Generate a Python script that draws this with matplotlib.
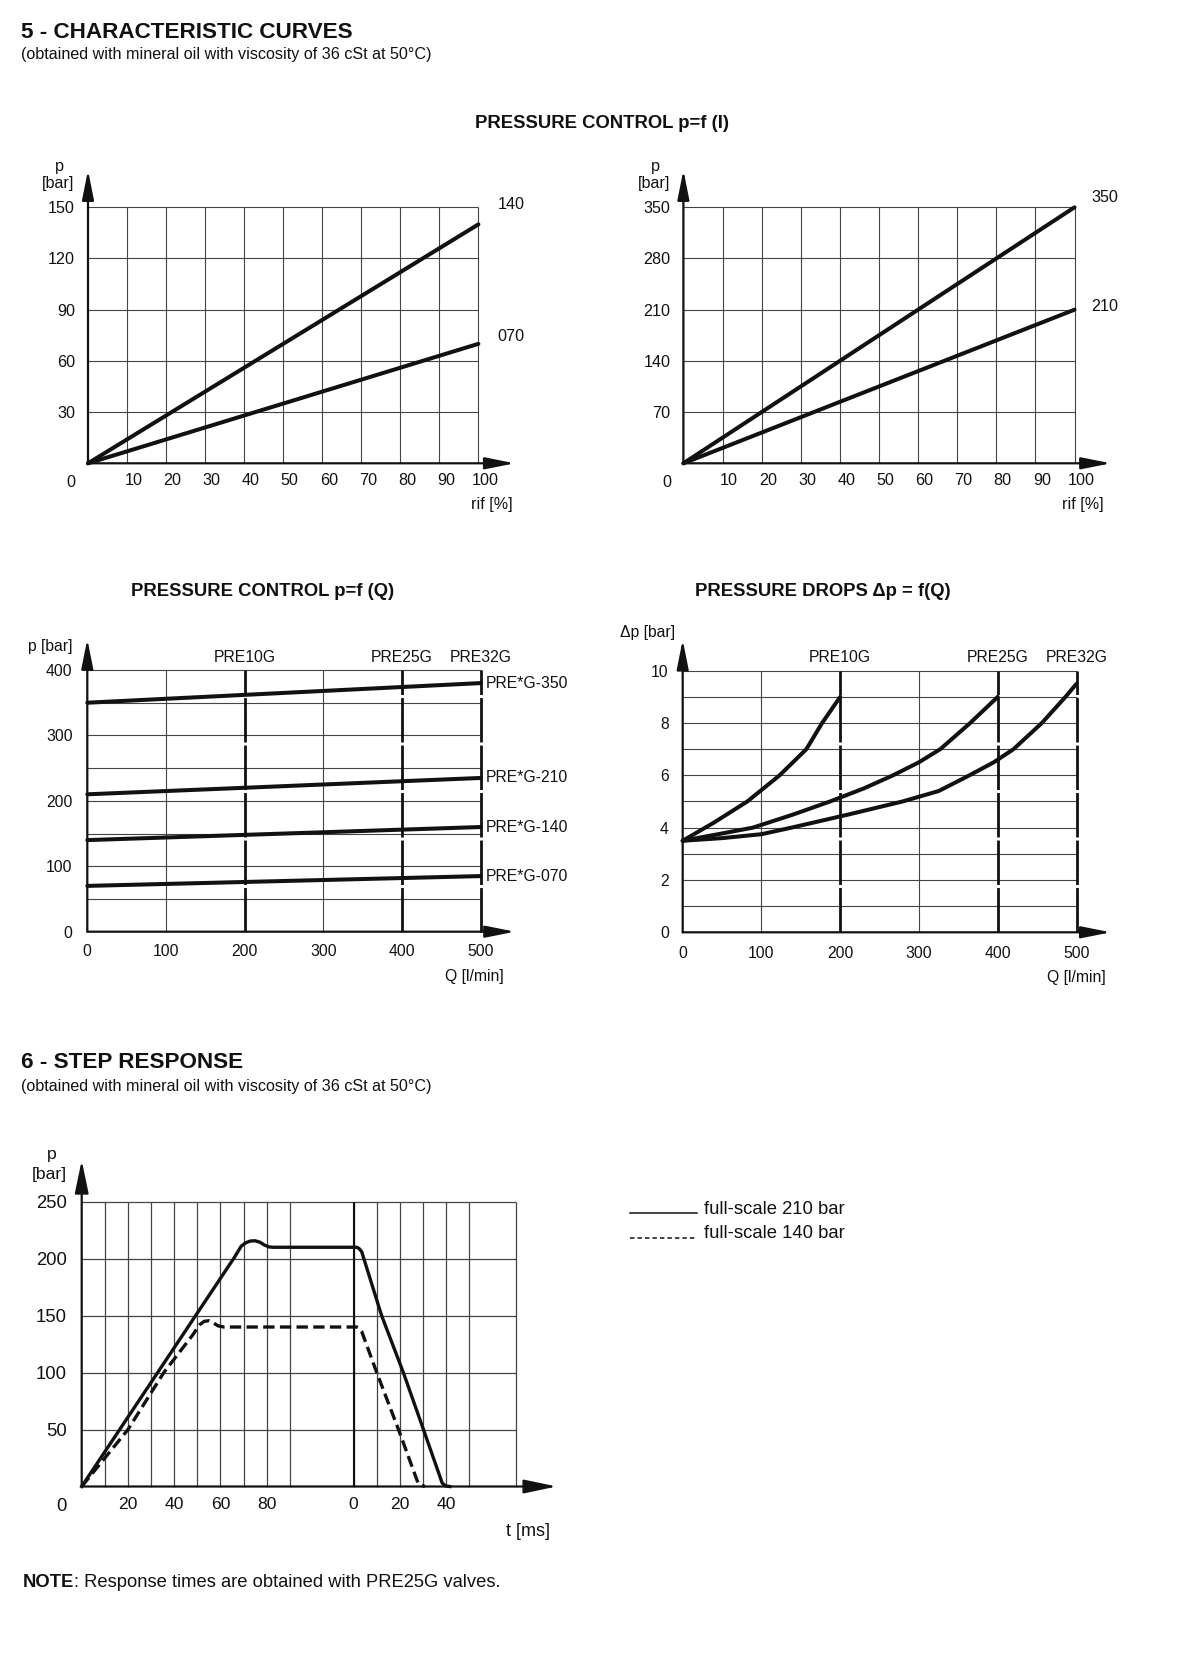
import numpy as np
import matplotlib
matplotlib.use('Agg')
import matplotlib.pyplot as plt
from matplotlib.lines import Line2D
from matplotlib.transforms import ScaledTranslation

W, H = 1200, 1669
plt.rcParams['font.family'] = ['Liberation Sans', 'DejaVu Sans']

# ---- values ----
# pressure control p = f(I)
rif = [0, 100]
p_rif_140 = [0, 140]
p_rif_070 = [0, 70]
p_rif_350 = [0, 350]
p_rif_210 = [0, 210]
rif_ticks = [10, 20, 30, 40, 50, 60, 70, 80, 90, 100]
p150_ticks = [30, 60, 90, 120, 150]
p350_ticks = [70, 140, 210, 280, 350]

# pressure control p = f(Q)
q_ends = [0, 500]
pq_350 = [350, 380]
pq_210 = [210, 235]
pq_140 = [140, 160]
pq_070 = [70, 85]
pq_names = ['PRE*G-350', 'PRE*G-210', 'PRE*G-140', 'PRE*G-070']
q_ticks = [0, 100, 200, 300, 400, 500]
pq_ticks = [0, 100, 200, 300, 400]
pq_grid = [50, 100, 150, 200, 250, 300, 350, 400]
valve_names = ['PRE10G', 'PRE25G', 'PRE32G']
valve_qmax = [200, 400, 500]

# pressure drops dp = f(Q)
q_10g = [0, 40, 82, 123, 157, 177, 200]
dp_10g = [3.5, 4.2, 5.0, 6.0, 7.0, 8.0, 9.0]
q_25g = [0, 45, 89, 140, 187, 230, 267, 300, 327, 365, 400]
dp_25g = [3.5, 3.75, 4.0, 4.5, 5.0, 5.5, 6.0, 6.5, 7.0, 8.0, 9.0]
q_32g = [0, 50, 100, 138, 210, 279, 325, 364, 395, 420, 456, 486, 500]
dp_32g = [3.5, 3.6, 3.75, 4.0, 4.5, 5.0, 5.4, 6.0, 6.5, 7.0, 8.0, 9.0, 9.5]
dp_ticks = [0, 2, 4, 6, 8, 10]
dp_grid = [1, 2, 3, 4, 5, 6, 7, 8, 9, 10]

# step response (rise measured from the step, fall measured from the release)
t_rise_210 = [0, 66, 69, 71, 73, 75, 77, 79, 81, 83, 90]
p_rise_210 = [0, 201, 211, 214, 215.5, 215.7, 214.5, 212, 210.3, 210, 210]
t_fall_210 = [0, 1.3, 2.3, 3.5, 12.1, 21.5, 30.2, 38.3, 39.8, 41.6]
p_fall_210 = [210, 210, 209, 206, 150, 100, 50, 3, 0.5, 0]
t_rise_140 = [0, 10, 20, 35.5, 48, 51, 53, 55, 57, 59, 61.5, 90]
p_rise_140 = [0, 25, 50, 100, 133, 142, 145, 145.5, 143.5, 141, 140, 140]
t_fall_140 = [0, 1.3, 2.3, 3.5, 10.0, 19.4, 27.5, 28.5, 30.9]
p_fall_140 = [140, 140, 139, 136, 100, 50, 5, 1.5, 0]
t_ticks_rise = [20, 40, 60, 80]
t_ticks_fall = [0, 20, 40]
t_grid_rise = [10, 20, 30, 40, 50, 60, 70, 80, 90]
t_grid_fall = [0, 10, 20, 30, 40, 50, 70]
step_p_ticks = [50, 100, 150, 200, 250]

T_BREAK = 117.6   # where the release time axis starts on the drawing
INK = '#111111'
GRID = '#444444'

fig = plt.figure(figsize=(W / 100, H / 100), dpi=100)


def make_ax(x0, y0, x1, y1):
    ax = fig.add_axes([x0 / W, 1 - y1 / H, (x1 - x0) / W, (y1 - y0) / H])
    for s in ax.spines.values():
        s.set_visible(False)
    ax.patch.set_alpha(0)
    return ax


def ftext(x, y, s, **kw):
    kw.setdefault('va', 'center')
    kw.setdefault('color', INK)
    return fig.text(x / W, 1 - y / H, s, **kw)


def grid(ax, xs, ys, lw=0.8):
    x0, x1 = ax.get_xlim()
    y0, y1 = ax.get_ylim()
    ax.vlines(xs, y0, y1, colors=GRID, lw=lw, clip_on=False, zorder=1)
    ax.hlines(ys, x0, x1, colors=GRID, lw=lw, clip_on=False, zorder=1)


def arrows(ax, xext, yext, hl=1.8, hw=0.36, lw=1.6):
    style = f'-|>,head_length={hl},head_width={hw}'
    props = dict(arrowstyle=style, lw=lw, color=INK, shrinkA=0, shrinkB=0,
                 mutation_scale=10)
    ax.annotate('', xy=(1 + xext, 0), xytext=(0, 0), xycoords='axes fraction',
                arrowprops=props, annotation_clip=False)
    ax.annotate('', xy=(0, 1 + yext), xytext=(0, 0), xycoords='axes fraction',
                arrowprops=props, annotation_clip=False)


def ticks(ax, xt, xl, yt, yl, size, xpad, ypad, xshift=0, ysize=None):
    ax.set_xticks(xt)
    ax.set_xticklabels(xl)
    ax.set_yticks(yt)
    ax.set_yticklabels(yl)
    ax.tick_params(axis='x', length=0, labelsize=size, pad=xpad, colors=INK)
    ax.tick_params(axis='y', length=0, labelsize=ysize or size, pad=ypad, colors=INK)
    if xshift:
        for lbl in ax.get_xticklabels():
            lbl.set_transform(lbl.get_transform() +
                              ScaledTranslation(xshift / 100, 0, fig.dpi_scale_trans))


def valve_lines(ax, ytop):
    # thick broken verticals at the max flow of each valve size
    ax.vlines(valve_qmax, 0, ytop, colors=INK, lw=2.0, linestyles=[(0, (16, 1.1))],
              clip_on=False, zorder=2)


# ---- headings ----
ftext(21, 32, '5 - CHARACTERISTIC CURVES', fontsize=16.2, weight='bold', ha='left')
ftext(21, 55, '(obtained with mineral oil with viscosity of 36 cSt at 50°C)',
      fontsize=11.6, ha='left')
ftext(602, 123, 'PRESSURE CONTROL p=f (I)', fontsize=13.3, weight='bold', ha='center')

# ---- p = f(I), two full scales ----
tops = [
    ((88, 207.3, 478.4, 463.3), 150, p150_ticks, [p_rif_140, p_rif_070],
     ['140', '070'], [(19, 20), (19, 7)], (59.3, 492)),
    ((683.4, 207.3, 1074.5, 463.3), 350, p350_ticks, [p_rif_350, p_rif_210],
     ['350', '210'], [(17, 10), (17, 3)], (655, 1083)),
]
for box, ymax, yt, curves, labels, offs, (px, rx) in tops:
    ax = make_ax(*box)
    ax.set_xlim(0, 100)
    ax.set_ylim(0, ymax)
    grid(ax, rif_ticks, yt)
    for yv, lab, off in zip(curves, labels, offs):
        ax.plot(rif, yv, color=INK, lw=2.9, solid_capstyle='round', zorder=3, clip_on=False)
        ax.annotate(lab, xy=(rif[-1], yv[-1]), xytext=off, textcoords='offset pixels',
                    fontsize=11.6, va='center', ha='left', color=INK)
    ticks(ax, rif_ticks, [str(v) for v in rif_ticks], yt, [str(v) for v in yt],
          11.6, 7.2, 9.3, xshift=6.5)
    ax.annotate('0', xy=(0, 0), xytext=(-17, -19), textcoords='offset pixels',
                fontsize=11.6, ha='center', va='center', color=INK)
    arrows(ax, 0.093, 0.145)
    ftext(px, 166, 'p', fontsize=11.6, ha='center')
    ftext(px - 1, 183, '[bar]', fontsize=11.6, ha='center')
    ftext(rx, 505, 'rif [%]', fontsize=11.6, ha='center')

# ---- p = f(Q) ----
ftext(263, 591, 'PRESSURE CONTROL p=f (Q)', fontsize=13.3, weight='bold', ha='center')
ax = make_ax(87.3, 670, 480.7, 931.7)
ax.set_xlim(0, 500)
ax.set_ylim(0, 400)
grid(ax, [100, 300], pq_grid)
valve_lines(ax, 400)
for yv, name in zip([pq_350, pq_210, pq_140, pq_070], pq_names):
    ax.plot(q_ends, yv, color=INK, lw=2.9, solid_capstyle='round', zorder=3, clip_on=False)
    ax.annotate(name, xy=(q_ends[-1], yv[-1]), xytext=(5, 0), textcoords='offset pixels',
                fontsize=11.3, va='center', ha='left', color=INK)
for q, name in zip(valve_qmax, valve_names):
    ax.annotate(name, xy=(q, 400), xytext=(0, 13), textcoords='offset pixels',
                fontsize=11.3, va='center', ha='center', color=INK)
ticks(ax, q_ticks, [str(v) for v in q_ticks], pq_ticks, [str(v) for v in pq_ticks],
      11.3, 9, 10.6)
arrows(ax, 0.087, 0.118)
ftext(49.8, 646, 'p [bar]', fontsize=11.3, ha='center')
ftext(474.6, 976, 'Q [l/min]', fontsize=11.3, ha='center')

# ---- pressure drops ----
ftext(823, 591, 'PRESSURE DROPS Δp = f(Q)', fontsize=13.3, weight='bold', ha='center')
ax = make_ax(682.7, 670.7, 1076.5, 932.3)
ax.set_xlim(0, 500)
ax.set_ylim(0, 10)
grid(ax, [100, 300], dp_grid)
valve_lines(ax, 10)
for qv, dv in [(q_10g, dp_10g), (q_25g, dp_25g), (q_32g, dp_32g)]:
    ax.plot(qv, dv, color=INK, lw=2.9, solid_capstyle='round', solid_joinstyle='round',
            zorder=3, clip_on=False)
for q, name in zip(valve_qmax, valve_names):
    ax.annotate(name, xy=(q, 10), xytext=(0, 13.5), textcoords='offset pixels',
                fontsize=11.3, va='center', ha='center', color=INK)
ticks(ax, q_ticks, [str(v) for v in q_ticks], dp_ticks, [str(v) for v in dp_ticks],
      11.3, 10, 10)
arrows(ax, 0.087, 0.118)
ftext(647.8, 632, 'Δp [bar]', fontsize=11.3, ha='center')
ftext(1076, 977, 'Q [l/min]', fontsize=11.3, ha='center')

# ---- step response ----
ftext(21, 1063, '6 - STEP RESPONSE', fontsize=16.2, weight='bold', ha='left')
ftext(21, 1086, '(obtained with mineral oil with viscosity of 36 cSt at 50°C)',
      fontsize=11.6, ha='left')
ax = make_ax(81.7, 1201.7, 515.5, 1486.5)
ax.set_xlim(0, T_BREAK + 70)
ax.set_ylim(0, 250)
fall_grid = [T_BREAK + v for v in t_grid_fall]
grid(ax, t_grid_rise + fall_grid, step_p_ticks, lw=0.9)
ax.vlines([T_BREAK], 0, 250, colors=INK, lw=1.5, zorder=1)
t210 = np.concatenate([t_rise_210, T_BREAK + np.array(t_fall_210)])
p210 = np.concatenate([p_rise_210, p_fall_210])
t140 = np.concatenate([t_rise_140, T_BREAK + np.array(t_fall_140)])
p140 = np.concatenate([p_rise_140, p_fall_140])
ax.plot(t210, p210, color=INK, lw=2.4, solid_joinstyle='round', zorder=3, clip_on=False)
ax.plot(t140, p140, color=INK, lw=2.4, linestyle=(0, (3.4, 1.6)), zorder=3, clip_on=False)
xt = t_ticks_rise + [T_BREAK + v for v in t_ticks_fall]
xl = [str(v) for v in t_ticks_rise + t_ticks_fall]
ticks(ax, xt, xl, step_p_ticks, [str(v) for v in step_p_ticks], 12.6, 7.5, 10.8,
      ysize=13.3)
for lbl in ax.get_xticklabels():
    lbl.set_family(['Liberation Sans Narrow', 'Liberation Sans'])
ax.annotate('0', xy=(0, 0), xytext=(-20, -20), textcoords='offset pixels',
            fontsize=13.3, ha='center', va='center', color=INK)
arrows(ax, 0.095, 0.145, hl=2.0, hw=0.42)
ftext(51.7, 1155, 'p', fontsize=12.6, ha='center')
ftext(49.2, 1175, '[bar]', fontsize=12.6, ha='center')
ftext(528, 1532, 't [ms]', fontsize=13, ha='center')

# legend
fig.add_artist(Line2D([630 / W, 696.7 / W], [1 - 1213.3 / H] * 2, transform=fig.transFigure,
                      color=INK, lw=1.1))
fig.add_artist(Line2D([630 / W, 696.7 / W], [1 - 1238 / H] * 2, transform=fig.transFigure,
                      color=INK, lw=1.1, linestyle=(0, (2.9, 2.0))))
ftext(704, 1209, 'full-scale 210 bar', fontsize=13.3, ha='left')
ftext(704, 1234, 'full-scale 140 bar', fontsize=13.3, ha='left')

# note line
note = ftext(23, 1587, 'NOTE', fontsize=13.2, weight='bold', ha='left', va='baseline')
bb = note.get_window_extent(fig.canvas.get_renderer())
fig.text(bb.x1 / W, 1 - 1587 / H, ': Response times are obtained with PRE25G valves.',
         fontsize=13.2, ha='left', va='baseline', color=INK)

fig.savefig('out.png', dpi=100, facecolor='white')
